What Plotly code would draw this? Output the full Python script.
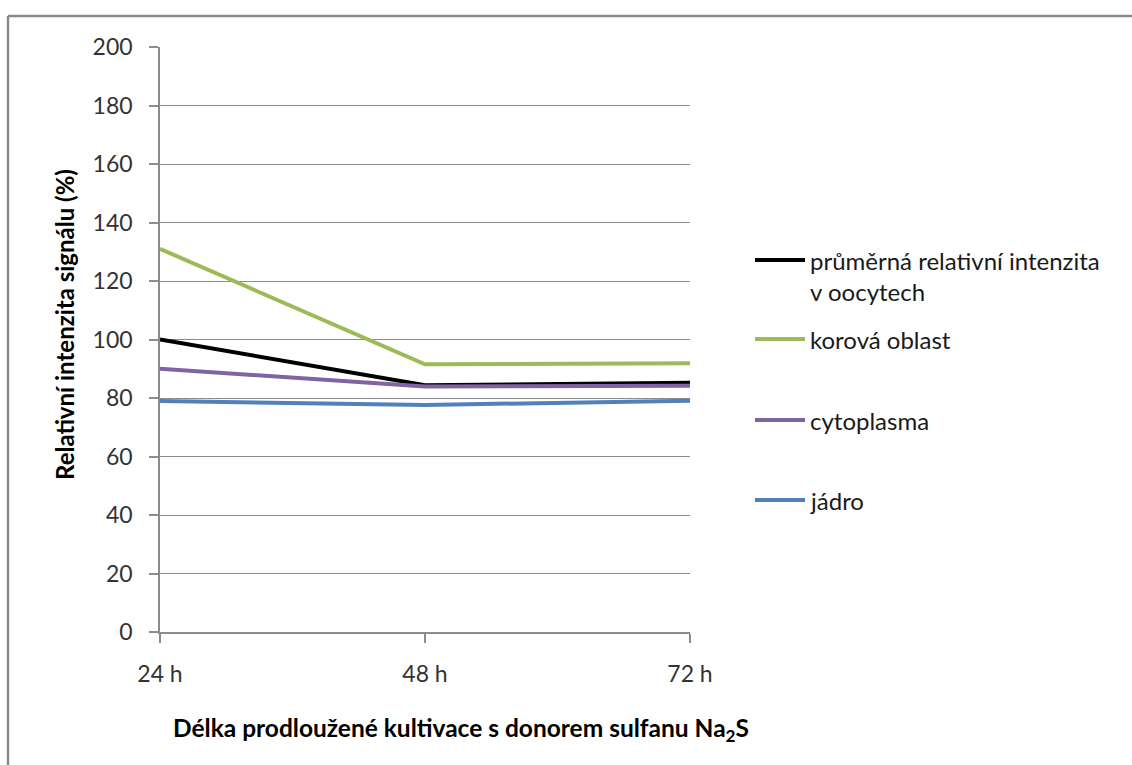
import plotly.graph_objects as go

# Data
categories = ["24 h", "48 h", "72 h"]
series_names = [
    "průměrná relativní intenzita<br>v oocytech",
    "korová oblast",
    "cytoplasma",
    "jádro",
]
prumer = [100.0, 84.4, 85.2]
korova = [131.0, 91.5, 91.9]
cytoplasma = [90.0, 83.9, 84.2]
jadro = [79.0, 77.6, 79.1]
y_ticks = [0, 20, 40, 60, 80, 100, 120, 140, 160, 180, 200]

series_values = [prumer, korova, cytoplasma, jadro]
colors = ["#000000", "#9BBB59", "#8064A2", "#4F81BD"]

W, H = 1132, 765
L, R, T, B = 160, 690, 47, 632  # plot-area pixel box


def px(x):
    return (x - L) / (R - L)


def py(y):
    return (B - y) / (B - T)


FONT = "Lato, 'Open Sans', sans-serif"
x_pos = list(range(len(categories)))

fig = go.Figure()
for name, vals, col in zip(series_names, series_values, colors):
    fig.add_trace(go.Scatter(
        x=x_pos, y=vals, mode="lines", name=name,
        line=dict(color=col, width=4), showlegend=False,
    ))

# Legend drawn at fixed positions
legend_y = [260, 339, 420, 500]
shapes = []
annotations = []
for name, col, ly in zip(series_names, colors, legend_y):
    shapes.append(dict(type="line", xref="paper", yref="paper",
                       x0=px(755), x1=px(805), y0=py(ly), y1=py(ly),
                       line=dict(color=col, width=4)))
    lines = name.split("<br>")
    for i, t in enumerate(lines):
        annotations.append(dict(
            text=t, xref="paper", yref="paper", x=px(808), y=py(ly + 31 * i),
            xanchor="left", yanchor="middle", showarrow=False,
            font=dict(family=FONT, size=24, color="#1a1a1a")))

# Outer frame (top and left edges)
shapes.append(dict(type="line", xref="paper", yref="paper",
                   x0=px(8), x1=px(1140), y0=py(16), y1=py(16),
                   line=dict(color="#8a8a8a", width=2.5)))
shapes.append(dict(type="line", xref="paper", yref="paper",
                   x0=px(8), x1=px(8), y0=py(16), y1=py(770),
                   line=dict(color="#8a8a8a", width=2.5)))

# Axis titles
annotations.append(dict(
    text="Délka prodloužené kultivace s donorem sulfanu Na<sub>2</sub>S",
    xref="paper", yref="paper", x=px(461), y=py(729),
    xanchor="center", yanchor="middle", showarrow=False,
    font=dict(family=FONT, size=24.5, color="#000000", weight="bold")))
annotations.append(dict(
    text="Relativní intenzita signálu (%)",
    xref="paper", yref="paper", x=px(64), y=py(325), textangle=-90,
    xanchor="center", yanchor="middle", showarrow=False,
    font=dict(family=FONT, size=24, color="#000000", weight="bold")))

fig.update_layout(
    width=W, height=H,
    margin=dict(l=L, r=W - R, t=T, b=H - B, pad=0),
    paper_bgcolor="white", plot_bgcolor="white",
    shapes=shapes, annotations=annotations,
    showlegend=False,
    font=dict(family=FONT, size=23, color="#333333"),
)
fig.update_xaxes(
    range=[0, 2], tickvals=x_pos, ticktext=categories,
    showgrid=False, zeroline=False,
    showline=True, linecolor="#8c8c8c", linewidth=1.5,
    ticks="outside", ticklen=9, tickcolor="#8c8c8c", tickwidth=1.5,
    ticklabelstandoff=12,
    tickfont=dict(family=FONT, size=23, color="#333333"),
)
fig.update_yaxes(
    range=[0, 200], tickvals=y_ticks,
    showgrid=True, gridcolor="#8c8c8c", gridwidth=1.2,
    zeroline=False,
    showline=True, linecolor="#8c8c8c", linewidth=1.5,
    ticks="outside", ticklen=9, tickcolor="#8c8c8c", tickwidth=1.5,
    ticklabelstandoff=12,
    tickfont=dict(family=FONT, size=23, color="#333333"),
)

fig.write_html("out.html")
